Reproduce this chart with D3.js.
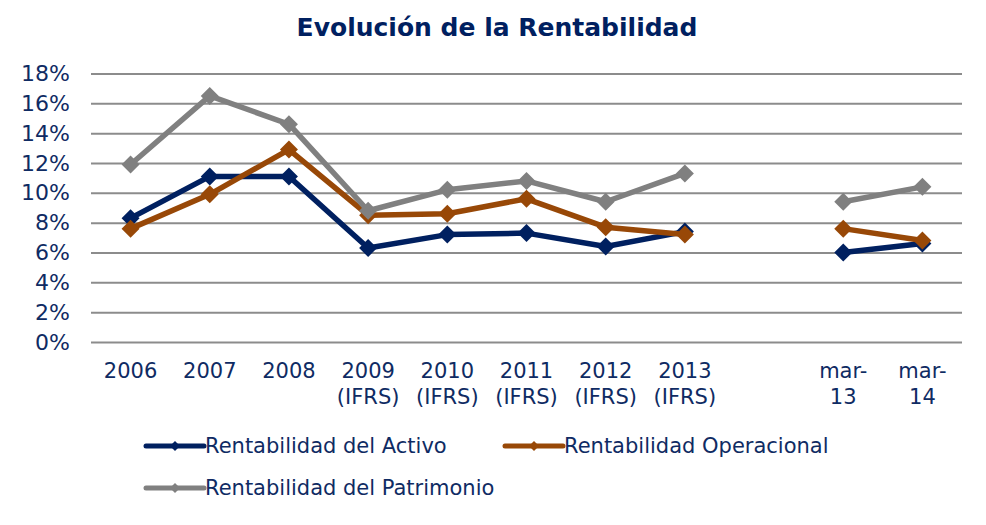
<!DOCTYPE html>
<html>
<head>
<meta charset="utf-8">
<script src="https://cdn.jsdelivr.net/npm/d3@7"></script>
<style>
  body { margin: 0; background: #fff; }
  svg text { font-family: "DejaVu Sans", Verdana, sans-serif; }
</style>
</head>
<body>
<div id="chart"></div>
<script>
const categories = ["2006", "2007", "2008", "2009\n(IFRS)", "2010\n(IFRS)", "2011\n(IFRS)",
  "2012\n(IFRS)", "2013\n(IFRS)", " ", "mar-\n13", "mar-\n14"];
const activo = [8.3, 11.1, 11.1, 6.3, 7.2, 7.3, 6.4, 7.4, null, 6.0, 6.6];
const operacional = [7.6, 9.9, 12.9, 8.5, 8.6, 9.6, 7.7, 7.2, null, 7.6, 6.8];
const patrimonio = [11.9, 16.5, 14.6, 8.8, 10.2, 10.8, 9.4, 11.3, null, 9.4, 10.4];
const yTicks = [0, 2, 4, 6, 8, 10, 12, 14, 16, 18];

const series = [
  { name: "Rentabilidad del Activo", values: activo, color: "#002060" },
  { name: "Rentabilidad Operacional", values: operacional, color: "#984807" },
  { name: "Rentabilidad del Patrimonio", values: patrimonio, color: "#808080" }
];

const width = 986;
const height = 525;
const textColor = "#0f2b63";

const svg = d3.select("#chart").append("svg")
  .attr("width", width)
  .attr("height", height);

const x = d3.scaleBand().domain(categories).range([91, 962]).padding(0);
const y = d3.scaleLinear().domain([0, 18]).range([342, 73.5]);
const cx = (i) => x(categories[i]) + x.bandwidth() / 2;

svg.append("text")
  .attr("x", 497)
  .attr("y", 36)
  .attr("text-anchor", "middle")
  .attr("font-size", 25)
  .attr("font-weight", "bold")
  .attr("fill", "#002060")
  .text("Evolución de la Rentabilidad");

// y axis + gridlines
const yAxis = svg.append("g")
  .attr("transform", "translate(91,0)")
  .call(d3.axisLeft(y)
    .tickValues(yTicks)
    .tickSize(-871)
    .tickPadding(21)
    .tickFormat((d) => d + "%"));
yAxis.select(".domain").remove();
yAxis.selectAll(".tick line").attr("stroke", "#8c8c8c").attr("stroke-width", 2);
yAxis.selectAll(".tick text")
  .attr("font-size", 22)
  .attr("fill", textColor)
  .attr("font-family", "DejaVu Sans, Verdana, sans-serif");

// x axis labels
const xAxis = svg.append("g")
  .attr("transform", "translate(0,342)")
  .call(d3.axisBottom(x).tickSize(0).tickPadding(0));
xAxis.select(".domain").remove();
xAxis.selectAll(".tick text")
  .attr("font-size", 21)
  .attr("fill", textColor)
  .attr("font-family", "DejaVu Sans, Verdana, sans-serif")
  .attr("dy", null)
  .attr("y", 0)
  .each(function (d) {
    const t = d3.select(this);
    t.text(null);
    d.split("\n").forEach((line, i) => {
      t.append("tspan").attr("x", 0).attr("y", 36 + i * 26).text(line);
    });
  });

const line = d3.line()
  .defined((d) => d != null)
  .x((d, i) => cx(i))
  .y((d) => y(d));

const diamond = (s) => `M0,${-s}L${s},0L0,${s}L${-s},0Z`;

series.forEach((s) => {
  const g = svg.append("g");
  g.append("path")
    .datum(s.values)
    .attr("fill", "none")
    .attr("stroke", s.color)
    .attr("stroke-width", 5.5)
    .attr("stroke-linejoin", "round")
    .attr("d", line);
  g.selectAll("path.marker")
    .data(s.values.map((v, i) => ({ v, i })).filter((d) => d.v != null))
    .enter()
    .append("path")
    .attr("class", "marker")
    .attr("transform", (d) => `translate(${cx(d.i)},${y(d.v)})`)
    .attr("d", diamond(9))
    .attr("fill", s.color);
});

// legend
const legendPos = [
  { x: 146, y: 446 },
  { x: 505, y: 446 },
  { x: 146, y: 488 }
];
const legend = svg.append("g");
series.forEach((s, i) => {
  const p = legendPos[i];
  const item = legend.append("g").attr("transform", `translate(${p.x},${p.y})`);
  item.append("line")
    .attr("x1", 0).attr("x2", 58)
    .attr("stroke", s.color)
    .attr("stroke-width", 5)
    .attr("stroke-linecap", "round");
  item.append("path")
    .attr("transform", "translate(29,0)")
    .attr("d", diamond(5))
    .attr("fill", s.color);
  item.append("text")
    .attr("x", 59)
    .attr("y", 7)
    .attr("font-size", 21)
    .attr("fill", textColor)
    .text(s.name);
});
</script>
</body>
</html>
